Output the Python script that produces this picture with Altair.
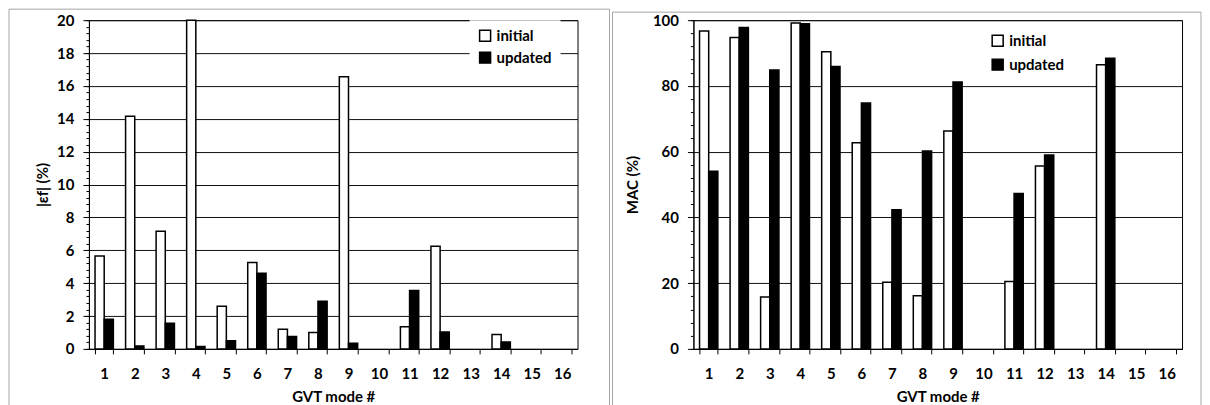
import altair as alt
import pandas as pd

modes = [str(i) for i in range(1, 17)]
series = ["initial", "updated"]

eps_initial = [5.65, 14.15, 7.15, 25.0, 2.6, 5.25, 1.2, 1.0, 16.55, None, 1.35, 6.25, None, 0.87, None, None]
eps_updated = [1.8, 0.18, 1.56, 0.15, 0.5, 4.6, 0.75, 2.9, 0.35, None, 3.55, 1.03, None, 0.42, None, None]
mac_initial = [96.7, 94.7, 15.8, 99.1, 90.4, 62.7, 20.3, 16.2, 66.3, None, 20.5, 55.6, None, 86.4, None, None]
mac_updated = [54.0, 97.8, 84.8, 98.9, 85.9, 74.8, 42.3, 60.2, 81.2, None, 47.3, 59.0, None, 88.4, None, None]

eps_major = [0, 2, 4, 6, 8, 10, 12, 14, 16, 18, 20]
eps_minor = [round(i * 0.4, 1) for i in range(51)]
mac_major = [0, 20, 40, 60, 80, 100]
mac_minor = [i * 4 for i in range(26)]

FONT = "Lato"
W, H = 489, 329


def long_df(a, b):
    rows = []
    for m, va, vb in zip(modes, a, b):
        rows.append({"mode": m, "series": "initial", "value": va})
        rows.append({"mode": m, "series": "updated", "value": vb})
    return pd.DataFrame(rows)


def panel(df, ymax, major, minor, ytitle, title_pad, lx, ly, rowpad, frame):
    base = alt.Chart(df)
    yscale = alt.Scale(domain=[0, ymax], nice=False, zero=True, clamp=True)
    bars = base.mark_bar(stroke="black", strokeWidth=1.5).encode(
        x=alt.X(
            "mode:N",
            sort=modes,
            scale=alt.Scale(domain=modes, paddingInner=0.4, paddingOuter=0.2),
            axis=alt.Axis(
                title="GVT mode #", labelAngle=0, tickBand="extent", tickSize=5,
                labelPadding=13, titlePadding=8, grid=False,
                labelFont=FONT, labelFontSize=15, labelFontWeight="bold", labelColor="black",
                titleFont=FONT, titleFontSize=15, titleFontWeight="bold", titleColor="black",
                domainColor="black", tickColor="black", domainWidth=1, tickWidth=1,
            ),
        ),
        xOffset=alt.XOffset("series:N", scale=alt.Scale(domain=series, paddingInner=0, paddingOuter=0)),
        y=alt.Y(
            "value:Q",
            scale=yscale,
            axis=alt.Axis(
                orient="left", values=major, title=ytitle, tickSize=6, labelPadding=9,
                titlePadding=title_pad, grid=True, gridColor="#111111", gridWidth=1,
                labelFont=FONT, labelFontSize=15, labelFontWeight="bold", labelColor="black",
                titleFont=FONT, titleFontSize=15, titleFontWeight="bold", titleColor="black",
                domainColor="black", tickColor="black", domainWidth=1, tickWidth=1,
            ),
        ),
        fill=alt.Fill(
            "series:N",
            scale=alt.Scale(domain=series, range=["white", "black"]),
            legend=alt.Legend(
                title=None, orient="none", legendX=lx, legendY=ly, fillColor="white",
                padding=8, symbolType="square", symbolSize=121, symbolStrokeColor="black",
                symbolStrokeWidth=1.5, labelFont=FONT, labelFontSize=15, labelFontWeight="bold",
                labelColor="black", rowPadding=rowpad, labelOffset=4,
            ),
        ),
    )
    minor_ax = base.mark_point(opacity=0).encode(
        y=alt.Y(
            "value:Q",
            scale=yscale,
            axis=alt.Axis(
                orient="left", values=minor, labels=False, title=None, grid=False,
                domain=False, tickSize=3, tickColor="black", tickWidth=1,
            ),
        )
    )
    fx1, fx2, fy1 = frame
    one = alt.Chart(pd.DataFrame({"k": [0]}))
    fstyle = dict(stroke="#a6a6a6", strokeWidth=1)
    f_left = one.mark_rule(**fstyle).encode(x=alt.value(fx1), y=alt.value(fy1), y2=alt.value(H + 60))
    f_right = one.mark_rule(**fstyle).encode(x=alt.value(fx2), y=alt.value(fy1), y2=alt.value(H + 60))
    f_top = one.mark_rule(**fstyle).encode(x=alt.value(fx1), x2=alt.value(fx2), y=alt.value(fy1))
    return (
        alt.layer(f_left, f_right, f_top, bars, minor_ax)
        .resolve_axis(y="independent")
        .properties(width=W, height=H)
    )


left = panel(long_df(eps_initial, eps_updated), 20, eps_major, eps_minor,
             "|εf| (%)", 6, 381, 0, 5, (-80, 521, -11))
right = panel(long_df(mac_initial, mac_updated), 100, mac_major, mac_minor,
              "MAC (%)", 12, 289, 5, 7, (-81, 508, -8))

chart = (
    alt.hconcat(left, right, spacing=116, bounds="flush")
    .resolve_scale(fill="independent")
    .properties(padding=0, background="white")
    .configure_view(stroke="black", strokeWidth=1)
)

chart.save("out.html", embed_options={"renderer": "svg", "actions": False})
